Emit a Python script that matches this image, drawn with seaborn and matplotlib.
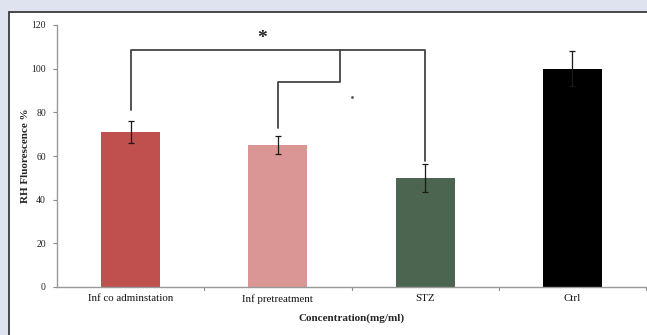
import matplotlib
matplotlib.use("Agg")
import matplotlib.pyplot as plt
import seaborn as sns
import pandas as pd
from matplotlib.patches import Rectangle

categories = ["Inf co adminstation", "Inf pretreatment", "STZ", "Ctrl"]
values = [71, 65, 50, 100]
errors = [5, 4, 6.5, 8]
colors = ["#c0504d", "#d99694", "#4b6550", "#000000"]
yticks = [0, 20, 40, 60, 80, 100, 120]

sns.set_theme(style="white")
plt.rcParams['font.family'] = ['Liberation Serif', 'DejaVu Serif']

df = pd.DataFrame({"cat": categories, "val": values})

fig = plt.figure(figsize=(6.47, 3.35), dpi=100)
fig.patch.set_facecolor("#dfe3f0")
panel = Rectangle((9/647, -0.05), 1.0, 1 - 12/335 + 0.05,
                  transform=fig.transFigure, facecolor="white",
                  edgecolor="#3a3a3a", lw=1.3, zorder=-10)
fig.patches.append(panel)

ax = fig.add_axes([57/647, 48/335, (646-57)/647, (287-25)/335])
ax.set_facecolor("none")

sns.barplot(data=df, x="cat", y="val", hue="cat", palette=colors, order=categories,
            width=0.4, legend=False, ax=ax, saturation=1, edgecolor="none")
ax.errorbar(range(len(categories)), values, yerr=errors, fmt="none",
            ecolor="#1a1a1a", elinewidth=0.9, capsize=2.5, capthick=0.9, zorder=5)

ax.set_xlim(-0.5, 3.5)
ax.set_ylim(0, 120)
ax.set_yticks(yticks)
ax.set_yticklabels([str(t) for t in yticks], fontsize=7, color="#222222")
ax.set_xticks(range(len(categories)))
ax.set_xticklabels(categories, fontsize=7.8, color="#111111")
ax.tick_params(axis="x", length=0, pad=5)
ax.tick_params(axis="y", length=3, width=0.8, color="#888888", pad=5, left=True, direction="out")
for b in [0.5, 1.5, 2.5, 3.5]:
    ax.plot([b, b], [0, -1.5], color="#888888", lw=0.8, clip_on=False)

for side in ["top", "right"]:
    ax.spines[side].set_visible(False)
for side in ["left", "bottom"]:
    ax.spines[side].set_color("#999999")
    ax.spines[side].set_linewidth(1.0)

ax.set_xlabel("Concentration(mg/ml)", fontsize=8, fontweight="bold", labelpad=7)
ax.set_ylabel("RH Fluorescence %", fontsize=8, fontweight="bold")
ax.yaxis.set_label_coords(-0.045, 0.5)

# significance brackets
lc = "#444444"
ax.plot([0, 0, 2, 2], [81, 108.5, 108.5, 57.5], color=lc, lw=1.3, clip_on=False)
ax.plot([1.42, 1.42, 1, 1], [108.5, 94, 94, 73], color=lc, lw=1.3, clip_on=False)
ax.text(0.89, 114, "*", ha="center", va="center", fontsize=14, fontweight="bold", color="#222222")
ax.plot([1.5], [87], marker="o", markersize=1, color="#555555")

fig.savefig("out.png", dpi=100, facecolor=fig.get_facecolor())
